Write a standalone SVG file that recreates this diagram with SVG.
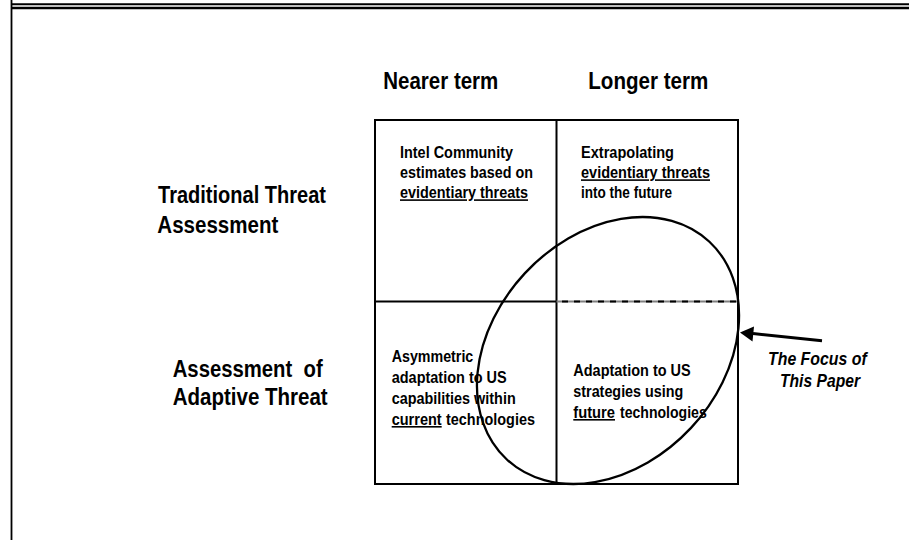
<svg xmlns="http://www.w3.org/2000/svg" width="909" height="540" viewBox="0 0 909 540">
<style>
.t{font-family:"Liberation Sans Narrow","Arial Narrow","Liberation Sans",Arial,sans-serif;font-weight:bold;fill:#000}
.h{font-size:23px}
.c{font-size:16px}
.f{font-size:18px;font-style:italic}
.u{text-decoration:underline}
.g{stroke:#000;stroke-width:2;fill:none}
</style>
<rect width="909" height="540" fill="#fff"/>
<g id="frame">
<line x1="11.5" y1="0" x2="11.5" y2="540" stroke="#000" stroke-width="1.8"/>
<line x1="11" y1="4.3" x2="909" y2="4.3" stroke="#000" stroke-width="2"/>
<line x1="11" y1="8" x2="909" y2="8" stroke="#000" stroke-width="2.7"/>
</g>
<g id="headers">
<text class="t h" x="383.3" y="89.3" textLength="115" lengthAdjust="spacingAndGlyphs">Nearer term</text>
<text class="t h" x="588.3" y="89.3" textLength="120" lengthAdjust="spacingAndGlyphs">Longer term</text>
<text class="t h" x="158" y="203.3" textLength="168" lengthAdjust="spacingAndGlyphs">Traditional Threat</text>
<text class="t h" x="157.3" y="232.7" textLength="121" lengthAdjust="spacingAndGlyphs">Assessment</text>
<text class="t h" x="172.7" y="376.7" textLength="150" lengthAdjust="spacingAndGlyphs" xml:space="preserve">Assessment  of</text>
<text class="t h" x="172.7" y="405" textLength="155" lengthAdjust="spacingAndGlyphs">Adaptive Threat</text>
</g>
<g id="grid">
<rect class="g" x="375" y="120" width="363" height="364"/>
<line class="g" x1="556.5" y1="120" x2="556.5" y2="484"/>
<line class="g" x1="375" y1="301.5" x2="556.5" y2="301.5"/>
<line x1="556.5" y1="301.5" x2="738" y2="301.5" stroke="#808080" stroke-width="2.2"/>
<line x1="562" y1="301.5" x2="738" y2="301.5" stroke="#000" stroke-width="2.2" stroke-dasharray="6 6"/>
</g>
<g id="cell-tl">
<text class="t c" x="400" y="158.3" textLength="113" lengthAdjust="spacingAndGlyphs">Intel Community</text>
<text class="t c" x="400" y="178.3" textLength="133" lengthAdjust="spacingAndGlyphs">estimates based on</text>
<text class="t c u" x="400" y="198.3" textLength="128" lengthAdjust="spacingAndGlyphs">evidentiary threats</text>
</g>
<g id="cell-tr">
<text class="t c" x="581" y="158.3" textLength="93" lengthAdjust="spacingAndGlyphs">Extrapolating</text>
<text class="t c u" x="581" y="178.3" textLength="129" lengthAdjust="spacingAndGlyphs">evidentiary threats</text>
<text class="t c" x="581" y="198.3" textLength="91" lengthAdjust="spacingAndGlyphs">into the future</text>
</g>
<g id="cell-bl">
<text class="t c" x="391.7" y="361.7" textLength="81.6" lengthAdjust="spacingAndGlyphs">Asymmetric</text>
<text class="t c" x="391.7" y="382.7" textLength="115" lengthAdjust="spacingAndGlyphs">adaptation to US</text>
<text class="t c" x="391.7" y="404" textLength="124" lengthAdjust="spacingAndGlyphs">capabilities within</text>
<text class="t c u" x="391.7" y="425" textLength="50" lengthAdjust="spacingAndGlyphs">current</text>
<text class="t c" x="446" y="425" textLength="89" lengthAdjust="spacingAndGlyphs">technologies</text>
</g>
<g id="cell-br">
<text class="t c" x="573.3" y="375.7" textLength="117.4" lengthAdjust="spacingAndGlyphs">Adaptation to US</text>
<text class="t c" x="573.3" y="396.7" textLength="110" lengthAdjust="spacingAndGlyphs">strategies using</text>
<text class="t c u" x="573.3" y="418" textLength="41.7" lengthAdjust="spacingAndGlyphs">future</text>
<text class="t c" x="620" y="418" textLength="86.7" lengthAdjust="spacingAndGlyphs">technologies</text>
</g>
<g id="focus-ellipse">
<ellipse cx="608" cy="350.5" rx="148.7" ry="113.5" transform="rotate(-47 608 350.5)" fill="none" stroke="#000" stroke-width="2.3"/>
</g>
<g id="focus-label">
<text class="t f" x="768" y="365" textLength="98.7" lengthAdjust="spacingAndGlyphs">The Focus of</text>
<text class="t f" x="780" y="387" textLength="80" lengthAdjust="spacingAndGlyphs">This Paper</text>
</g>
<g id="connectors">
<line x1="822" y1="340.7" x2="753" y2="333.5" stroke="#000" stroke-width="3"/>
<path d="M740,332.6 L754,326.5 L752.5,341.5 Z" fill="#000"/>
</g>
</svg>
